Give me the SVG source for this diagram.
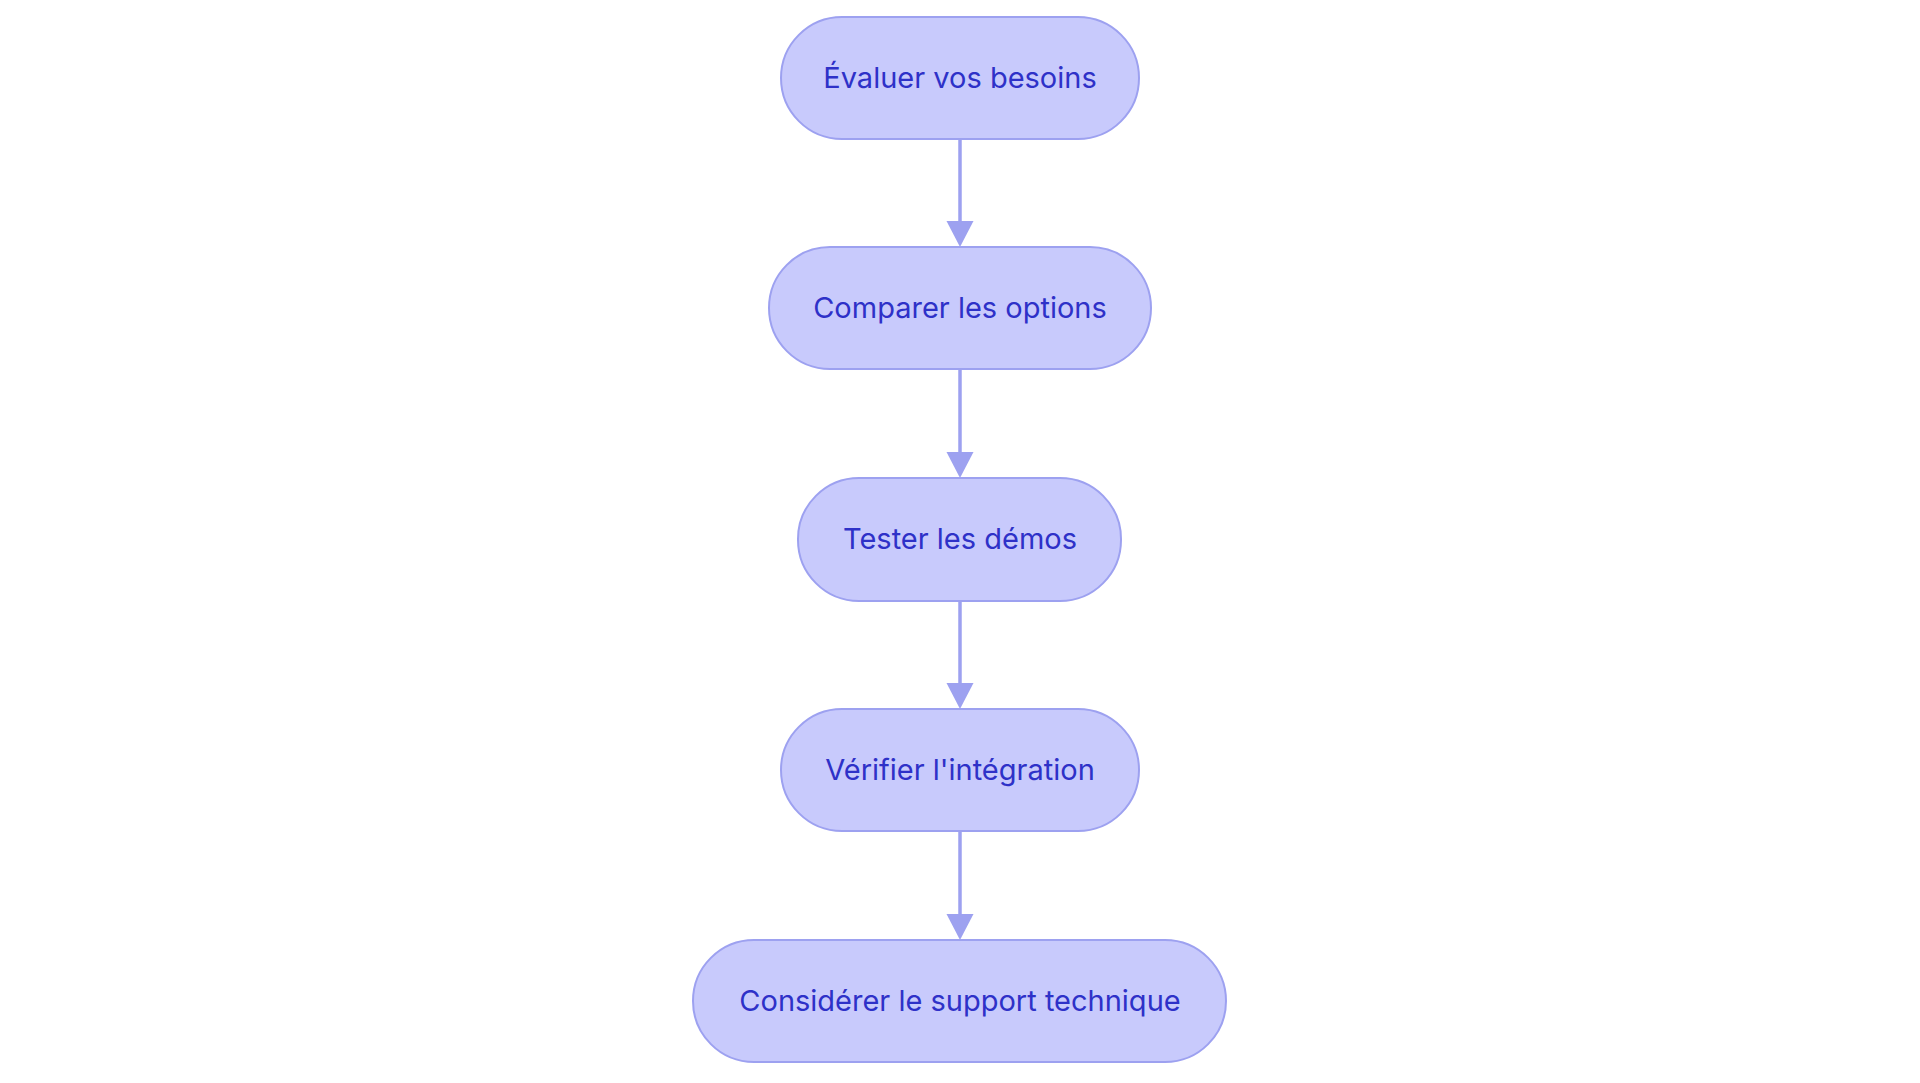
<svg xmlns="http://www.w3.org/2000/svg" width="1920" height="1083" viewBox="0 0 1920 1083">
<style>
.node rect{fill:#c8cafc;stroke:#9da1f0;stroke-width:2}
.node text{font-family:Inter,"Noto Sans",sans-serif;font-size:29px;fill:#2e31c8;text-anchor:middle}
.edge{stroke:#9da1f0;stroke-width:3.5;fill:none}
.head{fill:#9da1f0}
</style>
<rect width="1920" height="1083" fill="#ffffff"/>
<g id="connectors">
<line class="edge" x1="960" y1="139" x2="960" y2="224"/>
<polygon class="head" points="946.5,221 973.5,221 960,247"/>
<line class="edge" x1="960" y1="369" x2="960" y2="455"/>
<polygon class="head" points="946.5,452 973.5,452 960,478"/>
<line class="edge" x1="960" y1="601" x2="960" y2="686"/>
<polygon class="head" points="946.5,683 973.5,683 960,709"/>
<line class="edge" x1="960" y1="831" x2="960" y2="917"/>
<polygon class="head" points="946.5,914 973.5,914 960,940"/>
</g>
<g id="n1" class="node"><rect x="781" y="17" width="358" height="122" rx="61"/><text x="960" y="88">Évaluer vos besoins</text></g>
<g id="n2" class="node"><rect x="769" y="247" width="382" height="122" rx="61"/><text x="960" y="318">Comparer les options</text></g>
<g id="n3" class="node"><rect x="798" y="478" width="323" height="123" rx="61"/><text x="960" y="549">Tester les démos</text></g>
<g id="n4" class="node"><rect x="781" y="709" width="358" height="122" rx="61"/><text x="960" y="780">Vérifier l'intégration</text></g>
<g id="n5" class="node"><rect x="693" y="940" width="533" height="122" rx="61"/><text x="960" y="1011">Considérer le support technique</text></g>
</svg>
